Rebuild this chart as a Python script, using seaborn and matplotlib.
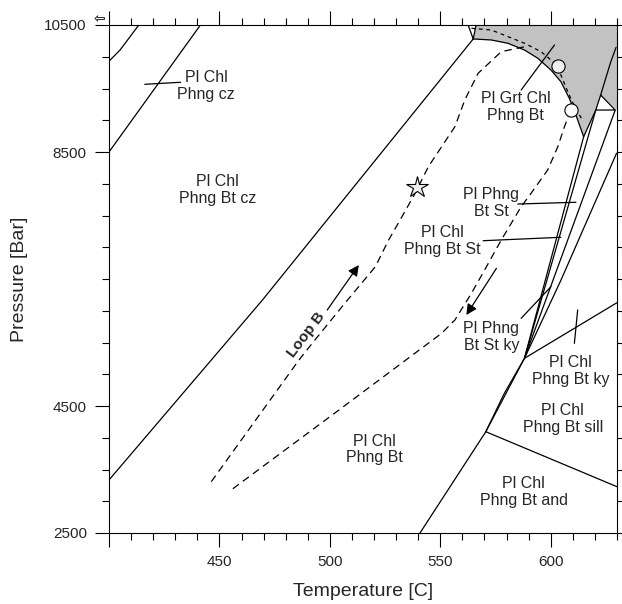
import matplotlib
matplotlib.use("Agg")
import matplotlib.pyplot as plt
import seaborn as sns
import numpy as np

# ---------------- data (Temperature [C], Pressure [Bar]) ----------------
x_ticks = [400, 450, 500, 550, 600]
x_tick_labels = ["", "450", "500", "550", "600"]
y_ticks = [2500, 4500, 8500, 10500]
y_tick_labels = ["2500", "4500", "8500", "10500"]

# phase boundaries
cz_top_T = [400, 405, 413.5]
cz_top_P = [9930, 10106, 10500]
cz_T = [400, 441.4]
cz_P = [8500, 10500]
bt_T = [400, 469.5, 564.9]
bt_P = [3335, 6170, 10280]
top_a_T = [564.9, 562.6]
top_a_P = [10280, 10500]
top_b_T = [564.9, 566.2]
top_b_P = [10280, 10500]
grt_arc_T = [564.9, 573.1, 580.6, 588.1, 594.1, 600.1, 604.6, 608.4, 611.4, 614.9]
grt_arc_P = [10280, 10264, 10212, 10106, 9977, 9791, 9607, 9346, 9083, 8741]
right_curve_T = [622.6, 624.9, 627.2, 629.6]
right_curve_P = [9397, 9661, 9922, 10150]
tri_T = [622.6, 620.4, 629.2, 622.6]
tri_P = [9397, 9161, 9161, 9397]
tip_T = [620.4, 614.9]
tip_P = [9161, 8741]
fan1_T = [588.1, 614.9]
fan1_P = [5251, 8741]
fan2_T = [588.1, 620.4]
fan2_P = [5251, 9161]
fan3_T = [588.1, 629.2]
fan3_P = [5251, 9161]
fan4_T = [588.1, 604.6, 629.8]
fan4_P = [5251, 6480, 8480]
st_T = [540.8, 570.6, 588.1]
st_P = [2500, 4095, 5251]
st2_T = [570.6, 579.0, 588.1]
st2_P = [4095, 4700, 5251]
and_sill_T = [570.6, 630]
and_sill_P = [4095, 3229]
ky_sill_T = [588.1, 630]
ky_sill_P = [5251, 6127]
ky_tick_T = [612.2, 610.7]
ky_tick_P = [6012, 5487]

# label pointer lines
ptr_cz_T, ptr_cz_P = [416.2, 432.4], [9566, 9598]
ptr_grt_T, ptr_grt_P = [586.6, 601.7], [9476, 10185]
ptr_st_T, ptr_st_P = [585.1, 611.4], [7681, 7708]
ptr_chlst_T, ptr_chlst_P = [569.4, 604.6], [7103, 7157]
ptr_ky_T, ptr_ky_P = [586.6, 600.1], [5881, 6379]

# shaded garnet field
shade_T = [566.2, 630, 630, 622.6, 620.4, 614.9, 611.4, 608.4, 604.6, 600.1,
           594.1, 588.1, 580.6, 573.1, 564.9]
shade_P = [10500, 10500, 9161, 9397, 9161, 8741, 9083, 9346, 9607, 9791,
           9977, 10106, 10212, 10264, 10280]

# P-T loop B
pro_T = [446.3, 486.0, 492.0, 505.5, 520.6, 526.6, 531.8, 538.6, 544.6, 556.6,
         561.1, 567.1, 577.6, 588.2]
pro_P = [3308, 5224, 5487, 6064, 6694, 7114, 7429, 7850, 8269, 8898,
         9319, 9739, 10080, 10158]
peak_T = [564.1, 573.1, 588.2, 595.6, 603.2, 604.6, 607.7, 611.0, 614.6]
peak_P = [10448, 10421, 10212, 10080, 9859, 9713, 9450, 9200, 8990]
retro_T = [609.1, 606.2, 603.2, 598.6, 591.1, 586.6, 577.6, 570.9, 564.1,
           556.6, 550.6, 504.1, 455.3]
retro_P = [9161, 8898, 8583, 8216, 7850, 7638, 7114, 6694, 6275,
           5854, 5645, 4437, 3177]
star_T, star_P = [539.3], [7954]
circ1_T, circ1_P = [603.2], [9859]
circ2_T, circ2_P = [609.1], [9161]
arrow_pro = [(498.8, 6012), (513.1, 6720)]
arrow_retro = [(575.4, 6668), (561.8, 5933)]

labels = [
    (444.0, 9539, "Pl Chl\nPhng cz"),
    (449.2, 7902, "Pl Chl\nPhng Bt cz"),
    (584.0, 9209, "Pl Grt Chl\nPhng Bt"),
    (573.1, 7697, "Pl Phng\nBt St"),
    (551.0, 7098, "Pl Chl\nPhng Bt St"),
    (573.1, 5587, "Pl Phng\nBt St ky"),
    (609.0, 5051, "Pl Chl\nPhng Bt ky"),
    (605.4, 4300, "Pl Chl\nPhng Bt sill"),
    (520.1, 3815, "Pl Chl\nPhng Bt"),
    (587.8, 3146, "Pl Chl\nPhng Bt and"),
]

# ---------------- figure ----------------
sns.set_theme(style="white")
plt.rcParams["font.family"] = ["Liberation Sans", "DejaVu Sans"]

fig = plt.figure(figsize=(6.22, 6.04), dpi=100)
ax = fig.add_axes([109 / 622, 1 - 533 / 604, (617 - 109) / 622, (533 - 25) / 604])

LW = 0.9


def line(T, P, lw=LW, dashes=None, z=3):
    sns.lineplot(x=T, y=P, sort=False, estimator=None, color="black",
                 linewidth=lw, ax=ax, zorder=z)
    ln = ax.lines[-1]
    if dashes is not None:
        ln.set_dashes(dashes)
    return ln


ax.fill(shade_T, shade_P, color="#c2c2c2", lw=0, zorder=1)

for T, P in [(cz_top_T, cz_top_P), (cz_T, cz_P), (bt_T, bt_P),
             (top_a_T, top_a_P), (top_b_T, top_b_P), (grt_arc_T, grt_arc_P),
             (right_curve_T, right_curve_P), (tri_T, tri_P), (tip_T, tip_P),
             (fan1_T, fan1_P), (fan2_T, fan2_P), (fan3_T, fan3_P),
             (fan4_T, fan4_P), (st_T, st_P), (st2_T, st2_P),
             (and_sill_T, and_sill_P), (ky_sill_T, ky_sill_P),
             (ky_tick_T, ky_tick_P),
             (ptr_cz_T, ptr_cz_P), (ptr_grt_T, ptr_grt_P), (ptr_st_T, ptr_st_P),
             (ptr_chlst_T, ptr_chlst_P), (ptr_ky_T, ptr_ky_P)]:
    line(T, P)

line(pro_T, pro_P, dashes=(6, 4))
line(peak_T, peak_P, dashes=(3, 3))
line(retro_T, retro_P, dashes=(6, 4))

for (a, b) in [arrow_pro, arrow_retro]:
    ax.annotate("", xy=b, xytext=a,
                arrowprops=dict(arrowstyle="-|>", color="black", lw=0.9,
                                mutation_scale=16, shrinkA=0, shrinkB=0),
                zorder=4)

ax.plot(star_T, star_P, marker="*", markersize=16, markerfacecolor="#eeeeee",
        markeredgecolor="black", markeredgewidth=0.8, linestyle="none", zorder=5)
ax.plot(circ1_T, circ1_P, marker="o", markersize=9.5, markerfacecolor="#f0f0f0",
        markeredgecolor="black", markeredgewidth=0.8, linestyle="none", zorder=5)
ax.plot(circ2_T, circ2_P, marker="o", markersize=9.5, markerfacecolor="white",
        markeredgecolor="black", markeredgewidth=0.8, linestyle="none", zorder=5)

for T, P, s in labels:
    ax.text(T, P, s, ha="center", va="center", fontsize=11.5, linespacing=1.15,
            zorder=6)

ax.text(489.4, 5618, "Loop B", rotation=53, ha="center", va="center",
        fontsize=11, fontweight="bold", zorder=6)

ax.text(-0.018, 1.012, "\u21e6", transform=ax.transAxes, ha="center",
        va="center", fontsize=10, fontweight="bold", family="DejaVu Sans")

ax.set_xlim(400, 630)
ax.set_ylim(2500, 10500)
ax.set_xticks(x_ticks)
ax.set_xticklabels(x_tick_labels)
ax.set_yticks(y_ticks)
ax.set_yticklabels(y_tick_labels)
ax.set_xticks(np.arange(400, 631, 10), minor=True)
ax.set_yticks(np.arange(2500, 10501, 500), minor=True)
ax.tick_params(which="both", direction="out", top=True, right=True,
               bottom=True, left=True, color="black", width=0.8)
ax.tick_params(which="major", length=10, labelsize=11, pad=6)
ax.tick_params(which="minor", length=5)
for sp in ax.spines.values():
    sp.set_color("black")
    sp.set_linewidth(0.8)

ax.set_xlabel("Temperature [C]", fontsize=14, labelpad=10)
ax.set_ylabel("Pressure [Bar]", fontsize=14, labelpad=12)

fig.savefig("out.png", dpi=100, facecolor="white")
